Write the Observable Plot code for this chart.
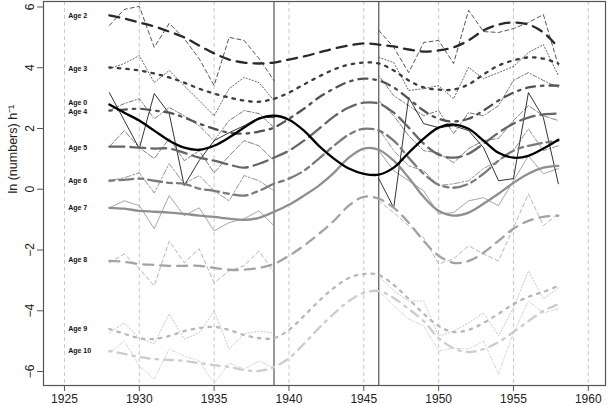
<!DOCTYPE html>
<html><head><meta charset="utf-8">
<script src="https://cdn.jsdelivr.net/npm/d3@7"></script>
<script src="https://cdn.jsdelivr.net/npm/@observablehq/plot@0.6"></script>
<style>body{margin:0;background:#fff} svg{display:block}</style>
</head><body><div id="chart"></div>
<script>
// ---- data ----
const yearsSmooth = [1928,1929,1930,1931,1932,1933,1934,1935,1936,1937,1938,1939,1940,1941,1942,1943,1944,1945,1946,1947,1948,1949,1950,1951,1952,1953,1954,1955,1956,1957,1958];
const yearsPre = [1928,1929,1930,1931,1932,1933,1934,1935,1936,1937,1938,1939];
const yearsPost = [1946,1947,1948,1949,1950,1951,1952,1953,1954,1955,1956,1957,1958];
const xTicks = [1925,1930,1935,1940,1945,1950,1955,1960];
const yTicks = [-6,-4,-2,0,2,4,6];
const warYears = [1939,1946];

const age0Smooth = [2.79,2.52,2.26,1.93,1.60,1.37,1.30,1.43,1.70,2.03,2.32,2.42,2.29,1.93,1.43,1.01,0.68,0.51,0.48,0.71,1.20,1.67,2.03,2.13,1.99,1.60,1.20,1.04,1.10,1.34,1.63];
const age0Pre = [3.18,2.26,1.34,3.15,2.49,0.12,0.94,1.60,1.86,2.09,2.36,2.36];
const age0Post = [0.35,-0.61,3.02,2.16,2.03,2.09,1.93,1.37,0.28,0.35,3.18,2.36,0.18];

const age2Smooth = [5.72,5.62,5.49,5.36,5.19,5.00,4.73,4.47,4.27,4.17,4.14,4.17,4.27,4.37,4.50,4.63,4.73,4.80,4.76,4.70,4.60,4.53,4.57,4.67,4.90,5.23,5.42,5.49,5.42,5.16,4.67];
const age2Pre = [5.39,5.92,6.02,4.67,5.46,4.96,4.30,3.41,5.00,4.90,4.30,3.58];
const age2Post = [5.23,4.67,3.84,4.83,4.90,4.14,5.89,5.19,5.16,5.29,5.49,5.75,4.07];

const age3Smooth = [4.01,3.97,3.91,3.81,3.68,3.51,3.31,3.15,3.02,2.92,2.88,2.98,3.18,3.45,3.71,3.94,4.10,4.17,4.14,3.91,3.58,3.35,3.28,3.28,3.45,3.78,4.07,4.24,4.34,4.30,4.14];
const age3Pre = [3.97,4.14,4.40,3.51,3.91,3.41,2.92,2.42,3.31,3.68,3.51,2.92];
const age3Post = [4.34,4.17,3.25,3.31,3.41,2.98,4.01,3.64,3.84,4.04,4.50,4.76,3.74];

const age4Smooth = [2.59,2.62,2.65,2.59,2.52,2.36,2.16,1.99,1.86,1.83,1.90,2.03,2.32,2.65,3.02,3.31,3.54,3.64,3.58,3.35,2.98,2.59,2.32,2.23,2.32,2.59,2.92,3.18,3.35,3.41,3.41];
const age4Pre = [2.59,2.82,2.98,2.32,2.69,2.42,2.09,1.60,2.26,2.59,2.49,2.03];
const age4Post = [3.74,3.08,2.75,2.42,2.59,1.83,2.52,2.42,2.75,3.58,3.84,3.58,3.35];

const age5Smooth = [1.40,1.40,1.37,1.34,1.34,1.20,1.04,0.94,0.81,0.71,0.84,1.04,1.27,1.60,1.99,2.39,2.69,2.85,2.82,2.52,2.03,1.50,1.14,1.04,1.17,1.50,1.86,2.16,2.36,2.46,2.49];
const age5Pre = [1.40,1.93,1.37,1.01,1.67,0.94,1.27,0.54,1.10,1.60,1.43,0.94];
const age5Post = [2.92,2.42,1.76,1.27,1.20,0.87,1.34,1.60,1.67,2.26,2.75,2.42,2.26];

const age6Smooth = [0.28,0.31,0.35,0.28,0.21,0.18,0.02,-0.05,-0.15,-0.21,-0.05,0.18,0.35,0.61,1.01,1.43,1.80,1.99,1.93,1.60,1.04,0.51,0.15,0.05,0.18,0.51,0.94,1.27,1.43,1.53,1.60];
const age6Pre = [0.28,0.38,0.54,-0.12,0.84,0.18,0.45,-0.05,-0.38,0.45,0.28,-0.05];
const age6Post = [1.99,1.27,0.77,0.61,0.12,0.18,0.28,0.68,0.94,1.27,1.99,1.27,1.43];

const age7Smooth = [-0.61,-0.64,-0.71,-0.74,-0.77,-0.81,-0.87,-0.91,-0.97,-1.01,-0.94,-0.74,-0.51,-0.21,0.12,0.54,1.04,1.34,1.30,0.94,0.38,-0.25,-0.71,-0.87,-0.77,-0.48,-0.15,0.21,0.51,0.71,0.77];
const age7Pre = [-0.61,-0.38,-0.54,-1.30,-0.21,-0.87,-0.61,-1.37,-1.10,-0.97,-0.71,-1.20];
const age7Post = [1.27,0.61,0.28,-0.05,-0.81,-0.77,-0.38,-0.28,-0.54,0.28,1.10,0.51,0.68];

const age8Smooth = [-2.36,-2.39,-2.46,-2.49,-2.52,-2.52,-2.52,-2.59,-2.65,-2.65,-2.59,-2.46,-2.19,-1.86,-1.47,-1.04,-0.54,-0.25,-0.31,-0.61,-1.10,-1.70,-2.19,-2.42,-2.36,-2.09,-1.70,-1.30,-1.04,-0.91,-0.87];
const age8Pre = [-2.42,-2.13,-2.62,-3.18,-1.70,-2.42,-1.96,-3.08,-2.69,-2.52,-2.03,-2.75];
const age8Post = [-0.38,-0.77,-1.20,-1.60,-2.46,-2.29,-1.86,-2.13,-2.36,-1.27,-0.15,-1.20,-0.81];

const age9Smooth = [-4.60,-4.76,-4.90,-4.93,-4.83,-4.67,-4.57,-4.53,-4.63,-4.80,-4.90,-4.90,-4.63,-4.17,-3.68,-3.25,-2.92,-2.79,-2.82,-3.15,-3.61,-4.10,-4.50,-4.70,-4.63,-4.40,-4.10,-3.78,-3.54,-3.38,-3.18];
const age9Pre = [-4.73,-4.40,-4.90,-5.09,-4.10,-4.93,-4.73,-4.01,-5.26,-4.76,-4.67,-4.73];
const age9Post = [-2.85,-3.35,-3.68,-3.68,-4.83,-4.67,-4.40,-4.07,-4.83,-3.91,-2.69,-3.61,-3.25];

const age10Smooth = [-5.32,-5.42,-5.52,-5.59,-5.62,-5.65,-5.72,-5.79,-5.85,-5.95,-5.98,-5.85,-5.56,-5.09,-4.57,-4.10,-3.68,-3.41,-3.35,-3.58,-3.94,-4.34,-4.90,-5.23,-5.36,-5.26,-5.03,-4.70,-4.34,-4.01,-3.78];
const age10Pre = [-5.39,-5.00,-5.82,-6.25,-5.26,-5.49,-5.65,-6.40,-5.72,-5.92,-5.65,-5.89];
const age10Post = [-3.35,-3.84,-4.27,-4.50,-5.32,-5.23,-5.26,-5.00,-6.08,-4.73,-3.68,-4.07,-3.94];

const labelNames = ["Age 2","Age 3","Age 0","Age 4","Age 5","Age 6","Age 7","Age 8","Age 9","Age 10"];
const labelY = [5.72,3.97,2.85,2.55,1.37,0.28,-0.61,-2.32,-4.60,-5.32];
const labelX = 1925.25;

// ---- styles ----
const DASH = {solid: null, dashed: "10,7", dotted: "2.5,6", dotdash: "2.5,6,9,6", longdash: "15,6", twodash: "5,5,14,5"};
const THIN = {solid: null, dashed: "4,3", dotted: "1.2,2", dotdash: "1.2,2,4,2", longdash: "6,2", twodash: "2,2,6,2"};
const series = [
  {s: age10Smooth, pre: age10Pre, post: age10Post, color: "#cccccc", lty: "dotdash"},
  {s: age9Smooth, pre: age9Pre, post: age9Post, color: "#b8b8b8", lty: "dotted"},
  {s: age8Smooth, pre: age8Pre, post: age8Post, color: "#a3a3a3", lty: "dashed"},
  {s: age7Smooth, pre: age7Pre, post: age7Post, color: "#8f8f8f", lty: "solid"},
  {s: age6Smooth, pre: age6Pre, post: age6Post, color: "#7a7a7a", lty: "twodash"},
  {s: age5Smooth, pre: age5Pre, post: age5Post, color: "#666666", lty: "longdash"},
  {s: age4Smooth, pre: age4Pre, post: age4Post, color: "#525252", lty: "dotdash"},
  {s: age3Smooth, pre: age3Pre, post: age3Post, color: "#3d3d3d", lty: "dotted"},
  {s: age2Smooth, pre: age2Pre, post: age2Post, color: "#292929", lty: "dashed"},
  {s: age0Smooth, pre: age0Pre, post: age0Post, color: "#000000", lty: "solid"}
];
const toRows = (xs, ys) => xs.map((x, i) => ({x, y: ys[i]}));

const rawMarks = [];
const smoothMarks = [];
for (const d of series) {
  for (const part of [[yearsPre, d.pre], [yearsPost, d.post]]) {
    rawMarks.push(Plot.line(toRows(part[0], part[1]), {x: "x", y: "y", stroke: d.color, strokeWidth: 0.8, strokeDasharray: THIN[d.lty]}));
  }
  smoothMarks.push(Plot.line(toRows(yearsSmooth, d.s), {x: "x", y: "y", stroke: d.color, strokeWidth: 2.3, strokeDasharray: DASH[d.lty], curve: "catmull-rom"}));
}

const chart = Plot.plot({
  width: 609, height: 405,
  marginLeft: 43, marginRight: 4, marginTop: 1, marginBottom: 20,
  style: {fontFamily: "'Liberation Sans', Arial, sans-serif", background: "#fff", color: "#222"},
  x: {domain: [1923.6, 1961.15]},
  y: {domain: [-6.46, 6.18]},
  marks: [
    Plot.ruleX(xTicks, {stroke: "#c8c8c8", strokeWidth: 1, strokeDasharray: "4,3"}),
    Plot.ruleX(warYears, {stroke: "#555", strokeWidth: 1.2}),
    ...rawMarks,
    ...smoothMarks,
    Plot.text(labelNames, {x: () => labelX, y: (d, i) => labelY[i], text: d => d, textAnchor: "start", fontSize: 7, fontWeight: "bold", fill: "#111"}),
    Plot.frame({stroke: "#555", strokeWidth: 1.2}),
    Plot.axisX({ticks: xTicks, tickFormat: "d", tickSize: 6, tickPadding: 3, fontSize: 12, stroke: "#555", label: null}),
    Plot.axisY({ticks: yTicks, tickSize: 6, tickPadding: 4, tickRotate: -90, fontSize: 12, stroke: "#555", label: null}),
    Plot.text(["ln (numbers) h\u207B\u00B9"], {frameAnchor: "left", dx: -31, rotate: -90, fontSize: 12.5, fill: "#222"})
  ]
});
document.getElementById("chart").appendChild(chart);
</script>
</body></html>
